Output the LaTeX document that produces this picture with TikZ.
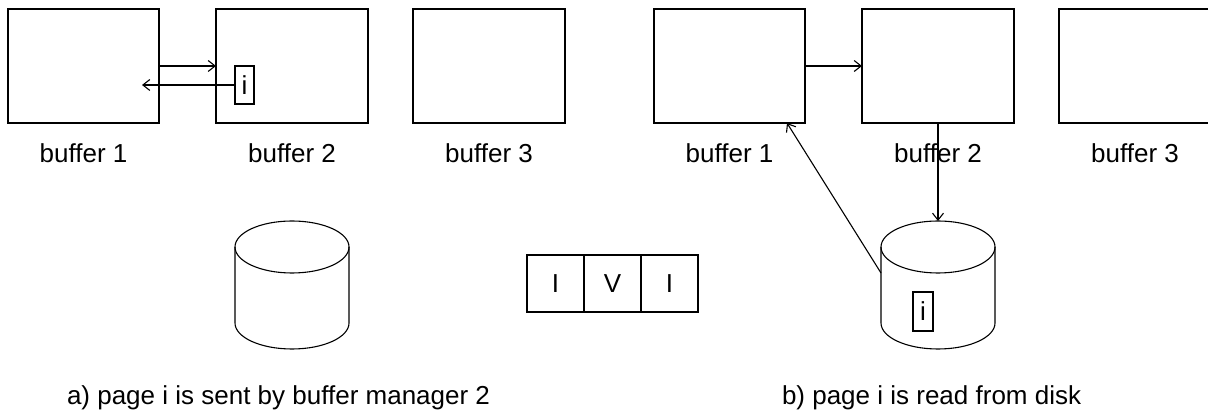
\documentclass[tikz,border=0pt]{standalone}
\usepackage{fontspec}
\setmainfont{Liberation Sans}
\usetikzlibrary{arrows.meta}
\begin{document}
\begin{tikzpicture}[x=1pt,y=1pt,
  every node/.style={font=\fontsize{26}{30}\selectfont, inner sep=0pt, outer sep=0pt},
  lw/.style={line width=1.1pt},
  bufbox/.style={draw, lw, minimum height=114pt},
  pagebox/.style={draw, lw, minimum width=19pt, minimum height=38pt},
  cell/.style={draw, lw, minimum width=57pt, minimum height=57pt},
  buflabel/.style={anchor=base},
  caption/.style={anchor=base west},
  conn/.style={lw, -{Straight Barb[length=7pt,width=11pt]}}]
\useasboundingbox (0,0) rectangle (1208,415);
\clip (0,0) rectangle (1208,415);

% ---- scenario a: buffers ----
\node[bufbox, minimum width=151pt] (L1) at (83.5,349) {};
\node[bufbox, minimum width=152pt] (L2) at (292,349) {};
\node[bufbox, minimum width=152pt] (L3) at (489,349) {};
\node[buflabel] (L1t) at (83.5,252) {buffer 1};
\node[buflabel] (L2t) at (292,252) {buffer 2};
\node[buflabel] (L3t) at (489,252) {buffer 3};

% page i held by buffer 2
\node[pagebox] (Li) at (244.5,330) {i};
\coordinate (Lret) at (142,330);
\draw[conn] (L1.east) -- (L2.west);
\draw[conn] (Li.west) -- (Lret);

% disk a
\coordinate (LD) at (292,168);
\draw[lw] (LD) ellipse [x radius=57, y radius=26];
\draw[lw] (235,168) -- (235,92) arc[start angle=180, end angle=360, x radius=57, y radius=26] -- (349,168);

% ---- I V I ----
\node[cell] (c1) at (555.5,131.5) {I};
\node[cell] (c2) at (612.5,131.5) {V};
\node[cell] (c3) at (669.5,131.5) {I};

% ---- scenario b: buffers ----
\node[bufbox, minimum width=151pt] (R1) at (729.5,349) {};
\node[bufbox, minimum width=152pt] (R2) at (938,349) {};
\node[bufbox, minimum width=152pt] (R3) at (1135,349) {};
\node[buflabel] (R1t) at (729.5,252) {buffer 1};
\node[buflabel] (R2t) at (938,252) {buffer 2};
\node[buflabel] (R3t) at (1135,252) {buffer 3};

% disk b
\coordinate (RD) at (938,168);
\draw[lw] (RD) ellipse [x radius=57, y radius=26];
\draw[lw] (881,168) -- (881,92) arc[start angle=180, end angle=360, x radius=57, y radius=26] -- (995,168);
\coordinate (RDtop) at (938,194);
\coordinate (RDside) at (881,142);
\node[pagebox, minimum width=20pt, minimum height=39pt] (Ri) at (923,103.5) {i};

\draw[conn] (R1.east) -- (R2.west);
\draw[conn] (R2.south) -- (RDtop);
\draw[conn] (RDside) -- ([xshift=-18pt]R1.south east);

% ---- captions ----
\node[caption] (capa) at (67,10) {a) page i is sent by buffer manager 2};
\node[caption] (capb) at (782,10) {b) page i is read from disk};
\end{tikzpicture}
\end{document}
